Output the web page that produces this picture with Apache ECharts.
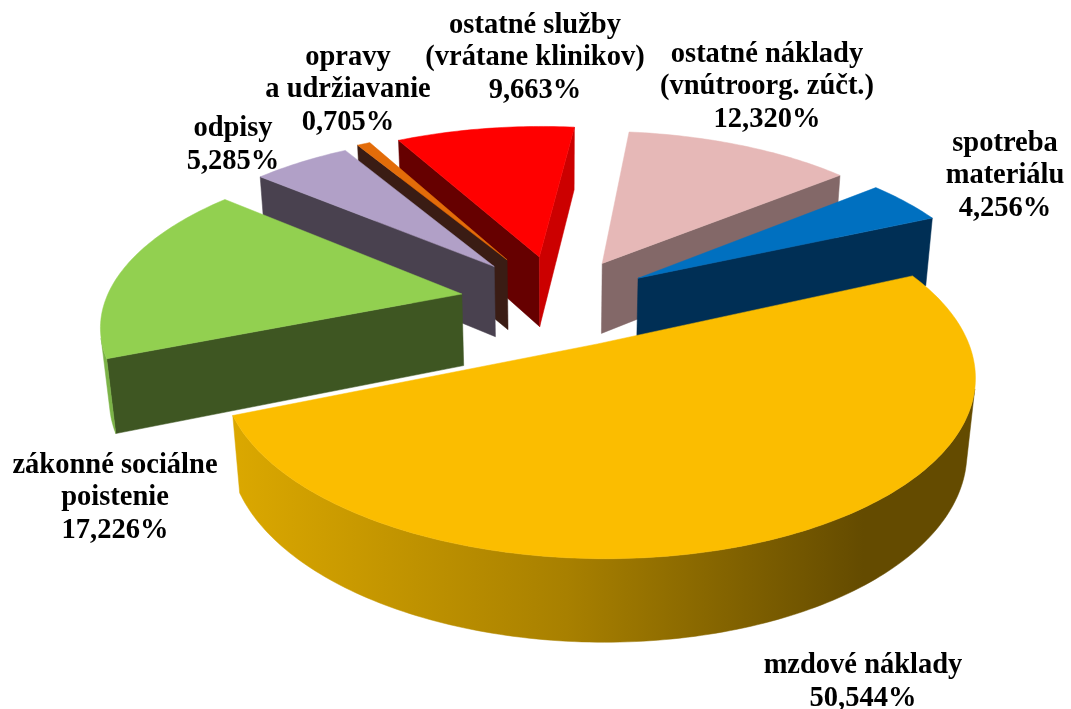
<!DOCTYPE html>
<html><head><meta charset="utf-8">
<script src="https://cdn.jsdelivr.net/npm/echarts@6/dist/echarts.min.js"></script>
<style>html,body{margin:0;padding:0;background:#fff}#c{width:1071px;height:709px}</style>
</head><body><div id="c"></div>
<script>
// DATA
const categories = ['mzdové náklady','zákonné sociálne\npoistenie','odpisy','opravy\na udržiavanie','ostatné služby\n(vrátane klinikov)','ostatné náklady\n(vnútroorg. zúčt.)','spotreba\nmateriálu'];
const shares = [50.544,17.226,5.285,0.705,9.663,12.320,4.256];

// STYLE
const topColors   = ['#fbbd00','#92d050','#b1a0c7','#e36c09','#ff0000','#e6b8b7','#0070c0'];
const rimColors   = ['#b08500','#7bb347','#8a7a9e','#a04c06','#b00000','#a88484','#005490'];
const startColors = ['#7a5c00','#3e5622','#49414f','#3a1c14','#660000','#836868','#002f55'];
const endColors   = ['#7a5c00','#3e5622','#6a5f78','#7a4a00','#cc0000','#836868','#002f55'];
const labelCenters = [[863,682],[115,498],[233,145],[348,90],[535,58],[767,87],[1005,176]];
const explodes = [0.272,0.275,0.285,0.30,0.285,0.27,0.27];

// PROJECTION
const firstAngle = 66, thick = 0.232, elev = 27.5 * Math.PI/180;
const camDist = 5.5, focal = 1960, originX = 558, originY = 301;
const FONT = 'bold 28.5px "Liberation Serif"', LINE = 32.5;

function proj(x, y, z) {
  const d = camDist - y*Math.cos(elev) - z*Math.sin(elev);
  return [originX + focal*x/d, originY + focal*(y*Math.sin(elev) - z*Math.cos(elev))/d];
}
function area(p) { let s = 0; p.forEach((a,i)=>{const b=p[(i+1)%p.length]; s += a[0]*b[1]-b[0]*a[1];}); return s; }
const total = shares.reduce((a,b)=>a+b,0);

function renderItem(params, api) {
  const i = params.dataIndex, v = api.value(0);
  const before = shares.slice(0,i).reduce((a,b)=>a+b,0);
  const a0 = (firstAngle + before/total*360)*Math.PI/180;
  const a1 = a0 + v/total*2*Math.PI, mid = (a0+a1)/2;
  const ox = explodes[i]*Math.sin(mid), oy = -explodes[i]*Math.cos(mid);
  const P = (a, r, z) => proj(ox + r*Math.sin(a), oy - r*Math.cos(a), z);
  const steps = Math.max(2, Math.ceil((a1-a0)/(Math.PI/180)));
  const angles = []; for (let k=0;k<=steps;k++) angles.push(a0+(a1-a0)*k/steps);
  const baseZ = Math.round((oy+2)*100);
  const kids = [];
  const poly = (pts, fill, z) => kids.push({type:'polygon', z2:baseZ+z, shape:{points:pts}, style:{fill, stroke:fill, lineWidth:0.5}});
  const tipT = P(0,0,0), tipB = P(0,0,-thick);
  // radial walls
  const sw = [tipT, P(a0,1,0), P(a0,1,-thick), tipB];
  if (area(sw) < 0) poly(sw, startColors[i], 1);
  const ew = [P(a1,1,0), tipT, tipB, P(a1,1,-thick)];
  if (area(ew) < 0) poly(ew, endColors[i], 1);
  // rim wall (visible run only)
  const vis = [];
  for (let k=0;k<steps;k++) {
    const q = [P(angles[k],1,0),P(angles[k+1],1,0),P(angles[k+1],1,-thick),P(angles[k],1,-thick)];
    if (area(q) < 0) { if (!vis.length) vis.push(angles[k]); vis.push(angles[k+1]); }
  }
  if (vis.length) {
    const pts = vis.map(a=>P(a,1,0)).concat(vis.slice().reverse().map(a=>P(a,1,-thick)));
    const fill = i === 0
      ? {type:'linear',x:0,y:0,x2:1,y2:0,colorStops:[{offset:0,color:'#dba800'},{offset:0.45,color:'#a88000'},{offset:0.85,color:'#644b00'},{offset:1,color:'#644b00'}]}
      : rimColors[i];
    poly(pts, fill, 2);
  }
  // top face
  poly([tipT].concat(angles.map(a=>P(a,1,0))), topColors[i], 3);
  // label
  const txt = categories[i] + '\n' + v.toFixed(3).replace('.',',') + '%';
  kids.push({type:'text', z2:1000, style:{text:txt, x:labelCenters[i][0], y:labelCenters[i][1], align:'center', verticalAlign:'middle', font:FONT, lineHeight:LINE, fill:'#000'}});
  return {type:'group', children:kids};
}

const chart = echarts.init(document.getElementById('c'), null, {renderer:'canvas'});
chart.setOption({
  animation:false, backgroundColor:'#fff',
  series:[{type:'custom', coordinateSystem:'none', silent:true, renderItem, data:shares.map(v=>[v]), encode:{}}]
});
</script></body></html>
